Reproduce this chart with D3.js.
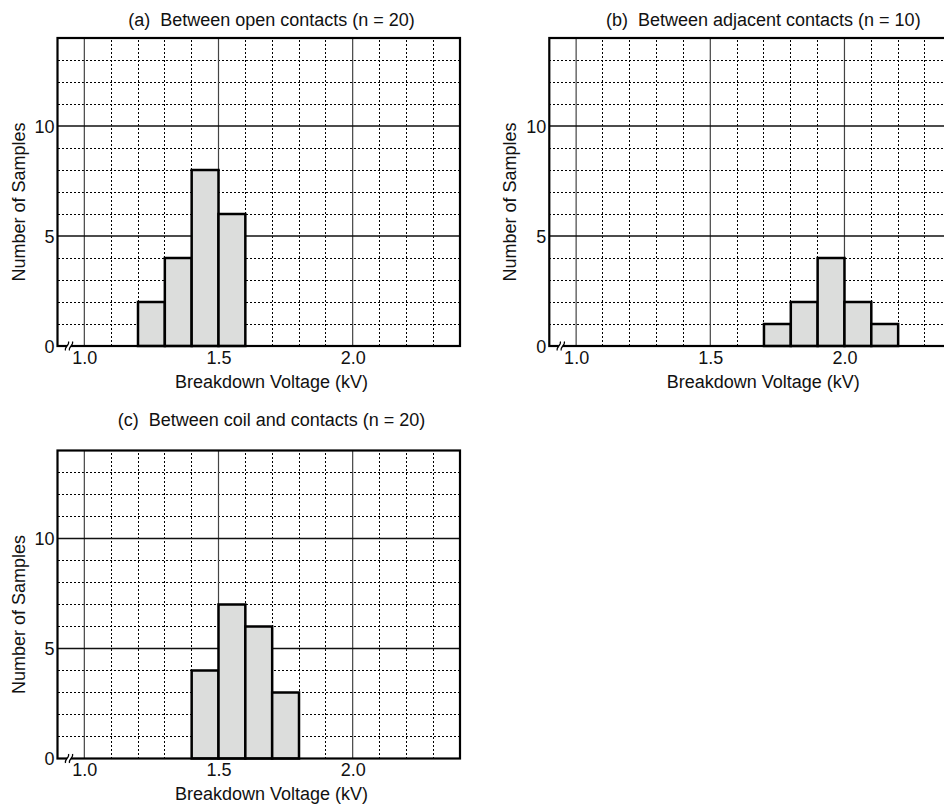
<!DOCTYPE html>
<html>
<head>
<meta charset="utf-8">
<script src="https://cdn.jsdelivr.net/npm/d3@7"></script>
<style>
  html, body { margin: 0; padding: 0; background: #fff; }
  svg { display: block; }
  text { font-family: "Liberation Sans", Arial, Helvetica, sans-serif; fill: #111; white-space: pre; }
</style>
</head>
<body>
<svg id="chart" width="944" height="808"></svg>
<script>
// ---------- data ----------
const panelTitles = [
  "(a)  Between open contacts (n = 20)",
  "(b)  Between adjacent contacts (n = 10)",
  "(c)  Between coil and contacts (n = 20)"
];
const binStartsA = [1.2, 1.3, 1.4, 1.5];
const countsA    = [2, 4, 8, 6];
const binStartsB = [1.7, 1.8, 1.9, 2.0, 2.1];
const countsB    = [1, 2, 4, 2, 1];
const binStartsC = [1.4, 1.5, 1.6, 1.7];
const countsC    = [4, 7, 6, 3];
const binWidth = 0.1;
const xTickValues = [1.0, 1.5, 2.0];
const xTickLabels = ["1.0", "1.5", "2.0"];
const yTickValues = [0, 5, 10];
const yTickLabels = ["0", "5", "10"];
const xDomain = [0.9, 2.4];
const yDomain = [0, 14];
const xAxisTitle = "Breakdown Voltage (kV)";
const yAxisTitle = "Number of Samples";

// ---------- layout ----------
const W = 402.5, H = 308;
const panels = [
  { title: panelTitles[0], starts: binStartsA, counts: countsA, left: 57.5, top: 38, titleY: 25.5 },
  { title: panelTitles[1], starts: binStartsB, counts: countsB, left: 549.3, top: 38, titleY: 25.5 },
  { title: panelTitles[2], starts: binStartsC, counts: countsC, left: 57.5, top: 450.5, titleY: 426 }
];

const svg = d3.select("#chart");
svg.append("rect").attr("width", 944).attr("height", 808).attr("fill", "#fff");

panels.forEach(p => {
  const x = d3.scaleLinear().domain(xDomain).range([p.left, p.left + W]);
  const y = d3.scaleLinear().domain(yDomain).range([p.top + H, p.top]);
  const g = svg.append("g");

  // minor grid (dotted)
  const minorX = d3.range(1, 15).map(i => +(0.9 + i * 0.1).toFixed(2)).filter(v => v < 2.4 && !xTickValues.includes(v));
  const minorY = d3.range(1, 14).filter(v => !yTickValues.includes(v));
  g.selectAll(".mx").data(minorX).join("line")
    .attr("x1", d => x(d)).attr("x2", d => x(d))
    .attr("y1", y(0)).attr("y2", y(14))
    .attr("stroke", "#000").attr("stroke-width", 1).attr("stroke-dasharray", "2,2")
    .attr("shape-rendering", "crispEdges");
  g.selectAll(".my").data(minorY).join("line")
    .attr("x1", x(0.9)).attr("x2", x(2.4))
    .attr("y1", d => y(d)).attr("y2", d => y(d))
    .attr("stroke", "#000").attr("stroke-width", 1).attr("stroke-dasharray", "2,2")
    .attr("shape-rendering", "crispEdges");

  // major grid (solid)
  g.selectAll(".Mx").data(xTickValues).join("line")
    .attr("x1", d => x(d)).attr("x2", d => x(d))
    .attr("y1", y(0)).attr("y2", y(14))
    .attr("stroke", "#444").attr("stroke-width", 1.2);
  g.selectAll(".My").data(yTickValues.filter(v => v > 0)).join("line")
    .attr("x1", x(0.9)).attr("x2", x(2.4))
    .attr("y1", d => y(d)).attr("y2", d => y(d))
    .attr("stroke", "#111").attr("stroke-width", 1.3);

  // bars
  const bins = p.starts.map((s, i) => ({ s, c: p.counts[i] }));
  g.selectAll(".bar").data(bins).join("rect")
    .attr("x", d => x(d.s))
    .attr("width", d => x(d.s + binWidth) - x(d.s))
    .attr("y", d => y(d.c))
    .attr("height", d => y(0) - y(d.c))
    .attr("fill", "#dcdddc")
    .attr("stroke", "#000").attr("stroke-width", 2.5);

  // frame
  g.append("rect")
    .attr("x", x(0.9)).attr("y", y(14))
    .attr("width", x(2.4) - x(0.9)).attr("height", y(0) - y(14))
    .attr("fill", "none").attr("stroke", "#000").attr("stroke-width", 2.2);

  // axis break marks
  const bx = x(0.9) + 11.5, by = y(0);
  g.append("rect").attr("x", bx - 2).attr("y", by - 2).attr("width", 4).attr("height", 4).attr("fill", "#fff");
  [-2, 2].forEach(dx => {
    const cx = bx + dx;
    g.append("path")
      .attr("d", `M${cx - 1.5},${by + 4.5} C${cx - 3},${by + 1} ${cx + 3},${by - 1} ${cx + 1.5},${by - 4.5}`)
      .attr("fill", "none").attr("stroke", "#000").attr("stroke-width", 1.2);
  });

  // x tick labels
  const xAxis = d3.axisBottom(x).tickValues(xTickValues)
    .tickFormat((d, i) => xTickLabels[i]).tickSize(0).tickPadding(0);
  const xa = g.append("g").attr("transform", `translate(0,${y(0)})`).call(xAxis);
  xa.select(".domain").remove();
  xa.selectAll("text").attr("y", 17.5).attr("dy", null)
    .style("font-size", "18px").style("font-family", '"Liberation Sans", Arial, sans-serif').attr("fill", "#111");

  // y tick labels
  const yAxis = d3.axisLeft(y).tickValues(yTickValues)
    .tickFormat((d, i) => yTickLabels[i]).tickSize(0).tickPadding(0);
  const ya = g.append("g").attr("transform", `translate(${x(0.9) - 3},0)`).call(yAxis);
  ya.select(".domain").remove();
  ya.selectAll("text").attr("x", 0).attr("dy", "0.35em")
    .style("font-size", "18px").style("font-family", '"Liberation Sans", Arial, sans-serif').attr("fill", "#111");

  // titles
  g.append("text").attr("x", p.left + 214).attr("y", p.titleY)
    .attr("text-anchor", "middle").attr("xml:space", "preserve")
    .style("font-size", "18px").style("white-space", "pre").text(p.title);
  g.append("text").attr("x", p.left + 214).attr("y", y(0) + 41.5)
    .attr("text-anchor", "middle").style("font-size", "18px").text(xAxisTitle);
  g.append("text")
    .attr("transform", `translate(${p.left - 33},${p.top + 164}) rotate(-90)`)
    .attr("text-anchor", "middle").style("font-size", "18px").text(yAxisTitle);
});
</script>
</body>
</html>
